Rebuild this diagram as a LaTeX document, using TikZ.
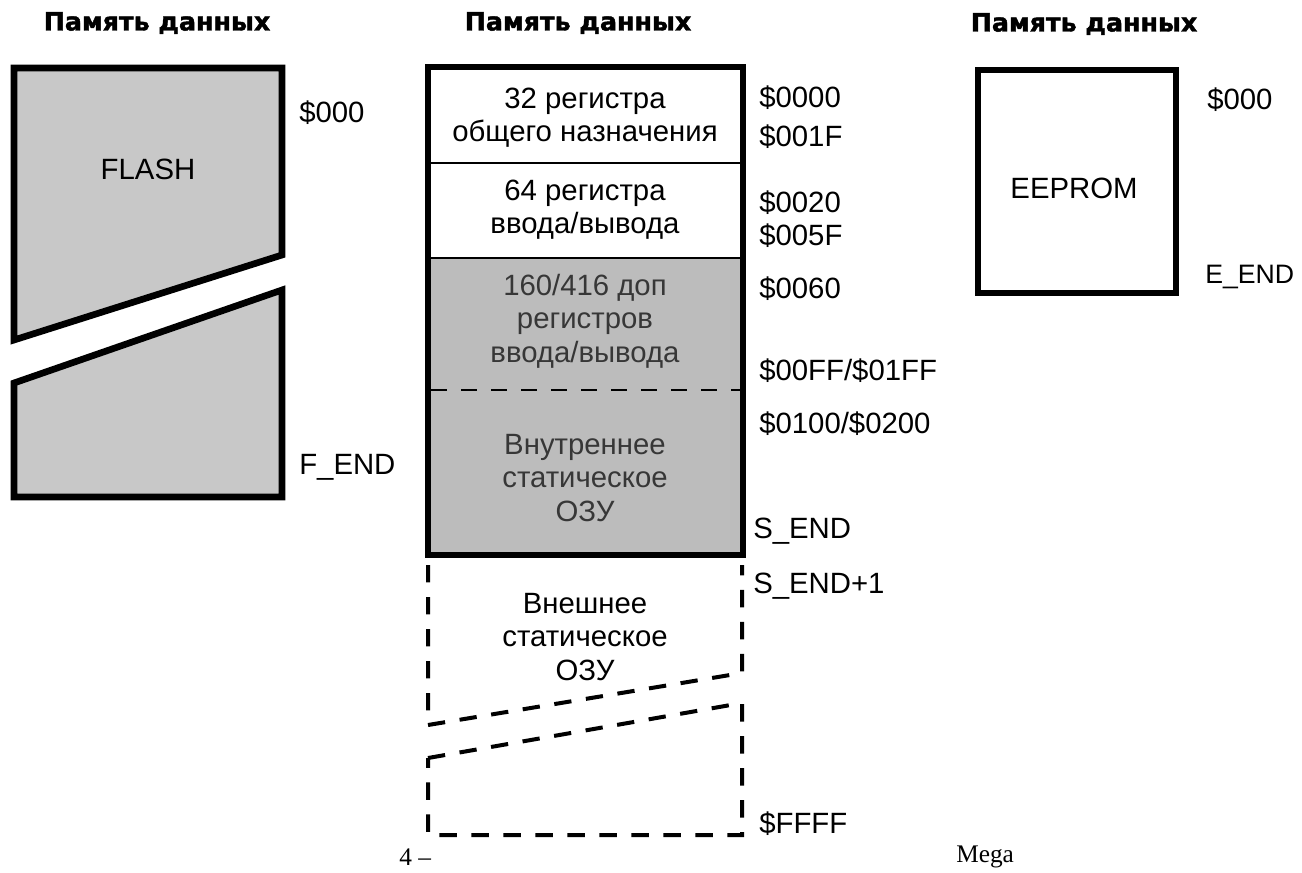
\documentclass[tikz,border=0pt]{standalone}
\usepackage{fontspec}
\setmainfont{Liberation Sans}
\newfontfamily\capfont{Liberation Serif}
\newfontfamily\headfont{DejaVu Sans}[BoldFeatures={FakeBold=1.6}]
\usetikzlibrary{positioning}
\definecolor{flashgrey}{RGB}{200,200,200}
\definecolor{ramgrey}{RGB}{188,188,188}
\definecolor{dimink}{RGB}{55,55,55}

\begin{document}
\begin{tikzpicture}[x=0.75pt,y=0.75pt,yscale=-1,xscale=1,
    hdr/.style={inner sep=0.75pt,font=\headfont\bfseries\fontsize{19}{22}\selectfont},
    addr/.style={anchor=west,inner sep=0.75pt,font=\fontsize{22}{25}\selectfont},
    txt/.style={inner sep=0.75pt,align=center,font=\fontsize{22}{25}\selectfont},
    dimtxt/.style={txt,text=dimink},
    captxt/.style={anchor=west,inner sep=0.75pt,font=\capfont\fontsize{19}{22}\selectfont}]
    \useasboundingbox (0,0) rectangle (1302,872);

    %Shape: FLASH upper piece
    \draw [fill=flashgrey,line width=5,line join=miter] (14,68) -- (282,68) -- (282,255) -- (14,340) -- cycle ;
    %Shape: FLASH lower piece
    \draw [fill=flashgrey,line width=5,line join=miter] (14,383) -- (282,290) -- (282,497) -- (14,497) -- cycle ;

    %Shape: data memory, white part
    \fill [white] (428,67) rectangle (743,258) ;
    %Shape: data memory, grey part
    \fill [ramgrey] (428,258) rectangle (743,555) ;
    %Straight Lines: separators
    \draw [line width=2.2]    (428,163) -- (743,163) ;
    \draw [line width=2.2]    (428,258) -- (743,258) ;
    \draw [line width=2.2,dash pattern=on 12pt off 10.5pt]    (431,390) -- (741,390) ;
    %Shape: data memory border
    \draw [line width=4.5] (428,67) rectangle (743,555) ;

    %Dashed: external SRAM upper piece
    \draw [line width=3,dash pattern=on 13pt off 11pt,line join=miter] (428,565) -- (428,725) -- (742,673) -- (742,565) ;
    %Dashed: external SRAM lower piece
    \draw [line width=3,dash pattern=on 13pt off 11pt,line join=miter] (428,758) -- (742,703) -- (742,835) -- (428,835) -- cycle ;

    %Shape: EEPROM
    \draw [line width=4,line join=miter] (978,70) rectangle (1176,293) ;

    % Text Node: headers
    \node [hdr] (hdrFlash) at (157,23) {Память данных};
    \node [hdr] (hdrData) at (578,23) {Память данных};
    \node [hdr] (hdrEep) at (1084,24) {Память данных};

    % Text Node: FLASH
    \node [txt] (flashTxt) at (148,169) {FLASH};
    \node [addr] (fStart) at (298,113) {\$000};
    \node [addr] (fEnd) at (298,467) {F\_END};

    % Text Node: data memory blocks
    \node [txt] (gpr) at (585,118) {32 регистра\\общего назначения};
    \node [txt] (ioReg) at (585,210) {64 регистра\\ввода/вывода};
    \node [dimtxt] (extIo) at (585,321) {160/416 доп\\регистров\\ввода/вывода};
    \node [dimtxt] (intRam) at (585,478) {Внутреннее\\статическое\\ОЗУ};
    \node [txt] (extRam) at (585,637) {Внешнее\\статическое\\ОЗУ};

    % Text Node: data memory addresses
    \node [addr] (a0000) at (758,98) {\$0000};
    \node [addr] (a001F) at (758,137) {\$001F};
    \node [addr] (a0020) at (758,203) {\$0020};
    \node [addr] (a005F) at (758,236) {\$005F};
    \node [addr] (a0060) at (758,289) {\$0060};
    \node [addr] (a00FF) at (758,371) {\$00FF/\$01FF};
    \node [addr] (a0100) at (758,424) {\$0100/\$0200};
    \node [addr] (sEnd) at (752,531) {S\_END};
    \node [addr] (sEndOne) at (752,586) {S\_END+1};
    \node [addr] (aFFFF) at (758,824) {\$FFFF};

    % Text Node: EEPROM
    \node [txt] (eepTxt) at (1074,188) {EEPROM};
    \node [addr] (eStart) at (1206,100) {\$000};
    \node [addr,font=\fontsize{20}{24}\selectfont] (eEnd) at (1204,277) {E\_END};

    % Text Node: caption remnants
    \node [captxt] (capNum) at (398,857) {4 –};
    \node [captxt] (capMega) at (955,857) {Mega};

\end{tikzpicture}
\end{document}
